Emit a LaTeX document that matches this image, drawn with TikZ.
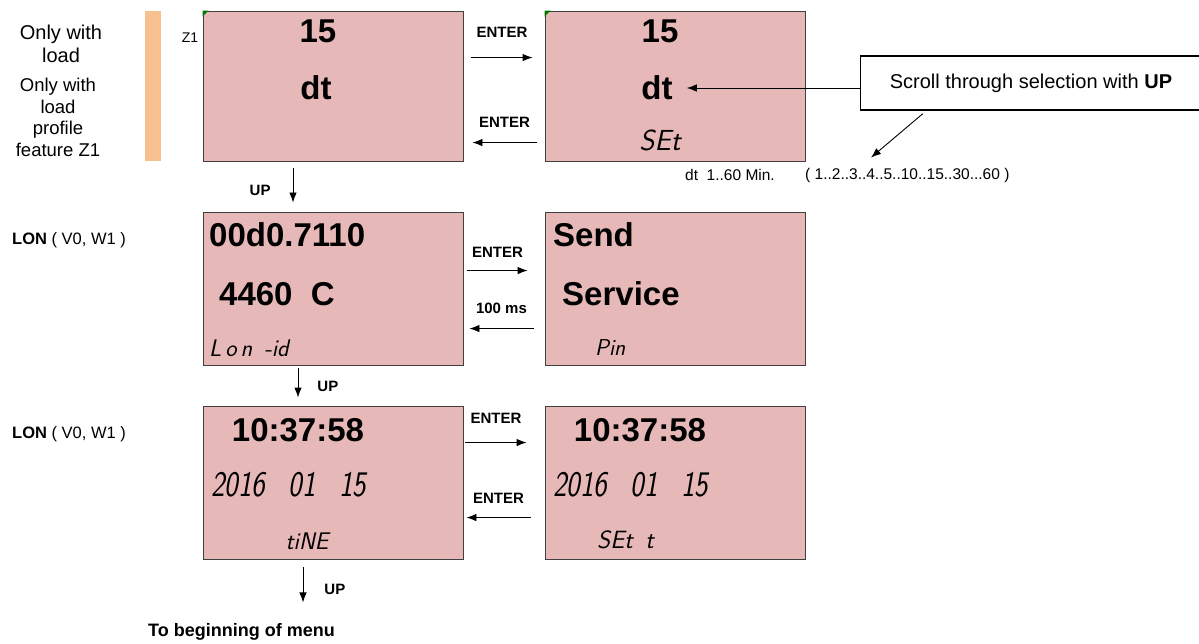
\documentclass[tikz,border=0pt]{standalone}
\usepackage{fontspec}
\setmainfont{Liberation Sans}
\usetikzlibrary{arrows.meta,calc}
\definecolor{lcdpink}{RGB}{230,184,183}
\definecolor{barorange}{RGB}{248,192,144}
\definecolor{cornergreen}{RGB}{0,120,0}

\tikzset{
	lcd/.style={draw=black!75, line width=0.9pt, fill=lcdpink, minimum width=260pt, minimum height=152pt, inner sep=0pt},
	big/.style={font=\fontsize{33}{36}\selectfont\bfseries, inner sep=0pt},
	seg/.style={font=\fontsize{24}{26}\selectfont\sffamily\slshape, inner sep=0pt},
	key/.style={font=\fontsize{15}{18}\selectfont\bfseries, inner sep=0pt},
	small/.style={font=\fontsize{15.5}{18}\selectfont, inner sep=0pt},
	arr/.style={-{Latex[length=10pt,width=7.5pt]}, line width=0.9pt},
}

\begin{document}
\begin{tikzpicture}[x=1pt, y=-1pt]
	\useasboundingbox (0,0) rectangle (1199,644);
	% left side notes
	\node[align=center, anchor=north, inner sep=0pt, font=\fontsize{20}{23}\selectfont] (only) at (61,25) {Only with\\load};
	\node[align=center, anchor=north, inner sep=0pt, font=\fontsize{18.5}{21.5}\selectfont] (profile) at (58,78) {Only with\\load\\profile\\feature Z1};
	\fill[barorange] (145,11) rectangle (161,161);
	\node[inner sep=0pt, font=\fontsize{14}{16}\selectfont] (z1) at (190,38) {Z1};
	\node[small, anchor=west, font=\fontsize{16.5}{18}\selectfont] (lon1) at (12,240) {\textbf{LON} ( V0, W1 )};
	\node[small, anchor=west, font=\fontsize{16.5}{18}\selectfont] (lon2) at (12,434) {\textbf{LON} ( V0, W1 )};

	% displays
	\node[lcd, minimum height=150pt] (a) at (333,86) {};
	\node[lcd, minimum height=150pt] (b) at (675,86) {};
	\node[lcd, minimum height=153pt] (c) at (333,288.5) {};
	\node[lcd, minimum height=153pt] (d) at (675,288.5) {};
	\node[lcd, minimum height=153pt] (e) at (333,482.5) {};
	\node[lcd, minimum height=153pt] (f) at (675,482.5) {};
	\foreach \n in {a,b}
		\fill[cornergreen] (\n.north west) -- ++(6,0) -- ++(-6,6) -- cycle;

	% display texts
	\node[big] (a15) at (318,31) {15};
	\node[big] (adt) at (316,88) {dt};
	\node[big] (b15) at (660,31) {15};
	\node[big] (bdt) at (657,88) {dt};
	\node[seg, font=\fontsize{29}{31}\selectfont\sffamily\slshape] (bset) at (660,140) {SEt};

	\node[big, anchor=west] (cid) at (209,234.5) {00d0.7110};
	\node[big, anchor=west] (cnum) at (219,294) {4460\ \ C};
	\node[seg, anchor=west] (clon) at (209,348) {L\,o\,n\enskip -id};
	\node[big, anchor=west] (dsend) at (553,235) {Send};
	\node[big, anchor=west] (dserv) at (562,294) {Service};
	\node[seg, anchor=west, font=\fontsize{23}{25}\selectfont\sffamily\slshape] (dpin) at (595,348) {Pin};

	\node[big] (etime) at (298,430) {10:37:58};
	\node[seg, anchor=west] (edate) at (211,485) {\scalebox{0.8}[1]{\fontsize{36}{38}\selectfont 2016\enskip\ 01\enskip\ 15}};
	\node[seg] (etxt) at (307,541) {tiNE};
	\node[big] (ftime) at (640,430) {10:37:58};
	\node[seg, anchor=west] (fdate) at (553,485) {\scalebox{0.8}[1]{\fontsize{36}{38}\selectfont 2016\enskip\ 01\enskip\ 15}};
	\node[seg, anchor=west, font=\fontsize{25}{27}\selectfont\sffamily\slshape] (fset) at (597,540) {SEt\enskip t};

	% key arrows between displays
	\draw[arr] ($(a.north east)+(8,47)$) -- node[key, above=19.5pt] {ENTER} ($(b.north west)+(-12,47)$);
	\draw[arr] ($(b.north west)+(-8,132)$) -- node[key, above=14.5pt] {ENTER} ($(a.north east)+(9,132)$);
	\draw[arr] ($(c.north east)+(4,59)$) -- node[key, above=12.5pt] {ENTER} ($(d.north west)+(-17,59)$);
	\draw[arr] ($(d.north west)+(-11,117)$) -- node[key, above=14.5pt] {100 ms} ($(c.north east)+(6,117)$);
	\draw[arr] ($(e.north east)+(2,37)$) -- node[key, above=18.5pt] {ENTER} ($(f.north west)+(-18,37)$);
	\draw[arr] ($(f.north west)+(-14,112)$) -- node[key, above=13.5pt] {ENTER} ($(e.north east)+(3,112)$);

	% UP arrows
	\draw[arr] ($(a.south)+(-40,7)$) -- node[key, pos=0.65, left=22pt] {UP} ($(c.north)+(-40,-9)$);
	\draw[arr] ($(c.south)+(-35,3)$) -- node[key, pos=0.63, right=19pt] {UP} ($(e.north)+(-35,-8)$);
	\draw[arr] ($(e.south)+(-30,8)$) -- node[key, pos=0.63, right=21pt] {UP} ++(0,35);
	\node[key, anchor=west, font=\fontsize{18}{20}\selectfont\bfseries] (menu) at (148,632) {To beginning of menu};

	% selection note
	\node[draw, line width=1.3pt, minimum width=341pt, minimum height=54pt, inner sep=0pt, font=\fontsize{20}{24}\selectfont] (note) at (1031,83) {Scroll through selection with \textbf{UP}};
	\node[small, anchor=west] (dtr) at (685,175) {dt\ \ 1..60 Min.};
	\node[small, anchor=west] (range) at (805,175) {( 1..2..3..4..5..10..15..30...60 )};
	\draw[arr] (bdt.east -| note.west) -- ($(bdt.east)+(14,0)$);
	\draw[arr] ($(note.south west)+(63,3)$) -- ($(range.north west)+(66,-10)$);
\end{tikzpicture}
\end{document}
